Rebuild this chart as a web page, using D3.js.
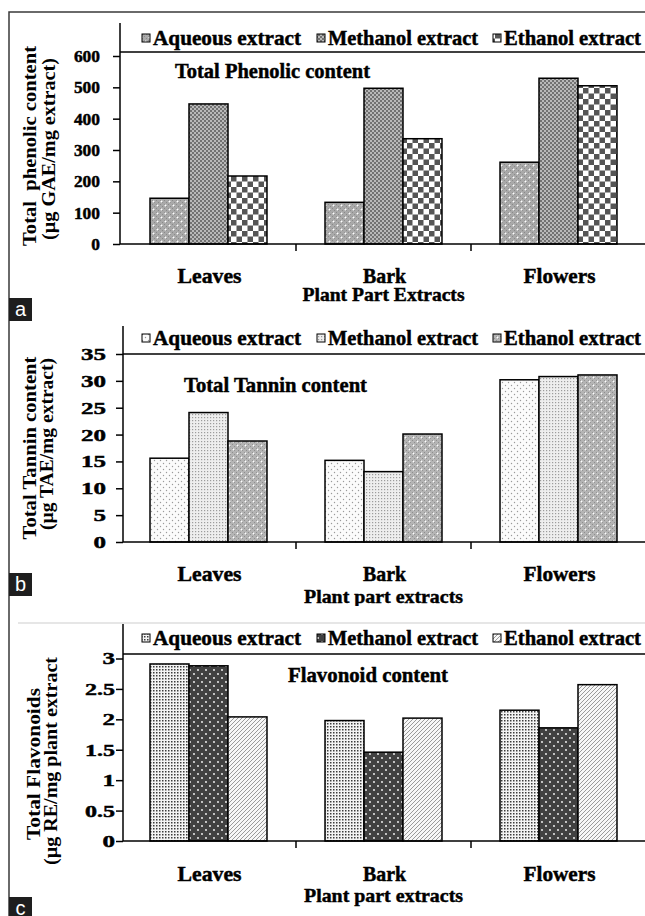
<!DOCTYPE html>
<html>
<head>
<meta charset="utf-8">
<script src="https://cdn.jsdelivr.net/npm/d3@7"></script>
<style>
  html, body { margin: 0; padding: 0; background: #fff; }
  svg { display: block; }
  text { font-family: "Liberation Serif", "Times New Roman", serif; font-weight: bold; fill: #000; }
  .heavy { stroke: #000; stroke-width: 0.45px; }
  .tag { font-family: "Liberation Sans", Arial, sans-serif; font-weight: normal; fill: #fff; }
</style>
</head>
<body>
<svg id="chart" width="645" height="916"></svg>
<script>
// ---- data ----
const categories = ["Leaves", "Bark", "Flowers"];
const seriesNames = ["Aqueous extract", "Methanol extract", "Ethanol extract"];

// Total phenolic content (µg GAE/mg extract)
const phenolicAqueous = [146, 133, 261];
const phenolicMethanol = [447, 497, 529];
const phenolicEthanol = [217, 336, 505];
const phenolicTicks = [0, 100, 200, 300, 400, 500, 600];

// Total tannin content (µg TAE/mg extract)
const tanninAqueous = [15.6, 15.2, 30.2];
const tanninMethanol = [24.1, 13.1, 30.8];
const tanninEthanol = [18.8, 20.1, 31.1];
const tanninTicks = [0, 5, 10, 15, 20, 25, 30, 35];

// Total flavonoids (µg RE/mg plant extract)
const flavonoidAqueous = [2.91, 1.98, 2.15];
const flavonoidMethanol = [2.88, 1.46, 1.86];
const flavonoidEthanol = [2.04, 2.02, 2.57];
const flavonoidTicks = [0, 0.5, 1, 1.5, 2, 2.5, 3];

// ---- layout of the three stacked panels ----
const panels = [
  {
    tag: "a", tagY: 298,
    series: [phenolicAqueous, phenolicMethanol, phenolicEthanol],
    ticks: phenolicTicks, max: 600,
    fills: ["pa0", "pa1", "pa2"],
    axisX: 120, axisTop: 23, sepY: 52, yTop: 56, yBottom: 244,
    tickRight: 100, digitW: 8.7, dotW: 4,
    legendY: 45,
    title: "Total Phenolic content", titleX: 175, titleY: 78, titleW: 195,
    catY: 283, xTitle: "Plant Part Extracts", xTitleY: 301, xTitleW: 162,
    yTitle: ["Total  phenolic content", "(µg GAE/mg extract)"],
    yTitleX: [36, 55], yTitleY: [146, 149], yTitleW: [200, 182]
  },
  {
    tag: "b", tagY: 573,
    series: [tanninAqueous, tanninMethanol, tanninEthanol],
    ticks: tanninTicks, max: 35,
    fills: ["pb0", "pb1", "pb2"],
    axisX: 123, axisTop: 326, sepY: 354, yTop: 354, yBottom: 542,
    tickRight: 106, digitW: 12.5, dotW: 5,
    legendY: 345,
    title: "Total Tannin content", titleX: 184, titleY: 392, titleW: 183,
    catY: 581, xTitle: "Plant part extracts", xTitleY: 603, xTitleW: 159, clipBottom: 606,
    yTitle: ["Total Tannin content", "(µg TAE/mg extract)"],
    yTitleX: [36, 53], yTitleY: [448, 444], yTitleW: [183, 172]
  },
  {
    tag: "c", tagY: 897,
    series: [flavonoidAqueous, flavonoidMethanol, flavonoidEthanol],
    ticks: flavonoidTicks, max: 3,
    fills: ["pc0", "pc1", "pc2"],
    axisX: 123, axisTop: 624, sepY: 654, yTop: 658.5, yBottom: 841,
    tickRight: 115, digitW: 12.5, dotW: 5,
    legendY: 645,
    title: "Flavonoid content", titleX: 288, titleY: 682, titleW: 160,
    catY: 881, xTitle: "Plant part extracts", xTitleY: 902, xTitleW: 159,
    yTitle: ["Total Flavonoids", "(µg RE/mg plant extract"],
    yTitleX: [40, 57], yTitleY: [764, 761], yTitleW: [152, 208]
  }
];

const W = 645;
const svg = d3.select("#chart");
const defs = svg.append("defs");

// ---- fill patterns ----
function pattern(id, size, build) {
  const p = defs.append("pattern").attr("id", id)
    .attr("patternUnits", "userSpaceOnUse").attr("width", size).attr("height", size);
  build(p);
  return p;
}
// panel a
pattern("pa0", 8, p => {
  p.append("rect").attr("width", 8).attr("height", 8).attr("fill", "#a9a9a9");
  [[0,0],[2,2],[4,0],[6,2],[0,4],[2,6],[4,4],[6,6]].forEach(([x,y]) =>
    p.append("rect").attr("x", x).attr("y", y).attr("width", 1).attr("height", 1).attr("fill", "#8a8a8a"));
  p.append("circle").attr("cx", 1.5).attr("cy", 1.5).attr("r", 1).attr("fill", "#fff");
  p.append("circle").attr("cx", 5.5).attr("cy", 5.5).attr("r", 1).attr("fill", "#fff");
});
pattern("pa1", 4, p => {
  p.append("rect").attr("width", 4).attr("height", 4).attr("fill", "#b9b9b9");
  p.append("rect").attr("width", 2).attr("height", 2).attr("fill", "#727272");
  p.append("rect").attr("x", 2).attr("y", 2).attr("width", 2).attr("height", 2).attr("fill", "#727272");
});
pattern("pa2", 11, p => {
  p.append("rect").attr("width", 11).attr("height", 11).attr("fill", "#fff");
  p.append("rect").attr("width", 5.5).attr("height", 5.5).attr("fill", "#555");
  p.append("rect").attr("x", 5.5).attr("y", 5.5).attr("width", 5.5).attr("height", 5.5).attr("fill", "#555");
});
// panel b
pattern("pb0", 6, p => {
  p.append("rect").attr("width", 6).attr("height", 6).attr("fill", "#fbfbfb");
  p.append("circle").attr("cx", 1.5).attr("cy", 1.5).attr("r", 0.7).attr("fill", "#9a9a9a");
  p.append("circle").attr("cx", 4.5).attr("cy", 4.5).attr("r", 0.7).attr("fill", "#9a9a9a");
});
pattern("pb1", 3, p => {
  p.append("rect").attr("width", 3).attr("height", 3).attr("fill", "#eeeeee");
  p.append("rect").attr("width", 1.2).attr("height", 1.2).attr("fill", "#9c9c9c");
});
pattern("pb2", 8, p => {
  p.append("rect").attr("width", 8).attr("height", 8).attr("fill", "#b4b4b4");
  [[0,0],[2,2],[4,0],[6,2],[0,4],[2,6],[4,4],[6,6]].forEach(([x,y]) =>
    p.append("rect").attr("x", x).attr("y", y).attr("width", 1).attr("height", 1).attr("fill", "#8e8e8e"));
  p.append("circle").attr("cx", 1.5).attr("cy", 1.5).attr("r", 0.9).attr("fill", "#fff");
  p.append("circle").attr("cx", 5.5).attr("cy", 5.5).attr("r", 0.9).attr("fill", "#fff");
});
// panel c
pattern("pc0", 3, p => {
  p.append("rect").attr("width", 3).attr("height", 3).attr("fill", "#f4f4f4");
  p.append("rect").attr("width", 1.5).attr("height", 1.5).attr("fill", "#3c3c3c");
});
pattern("pc1", 8, p => {
  p.append("rect").attr("width", 8).attr("height", 8).attr("fill", "#414141");
  p.append("circle").attr("cx", 2).attr("cy", 2).attr("r", 0.9).attr("fill", "#fff");
  p.append("circle").attr("cx", 6).attr("cy", 6).attr("r", 0.9).attr("fill", "#fff");
});
pattern("pc2", 4, p => {
  p.append("rect").attr("width", 4).attr("height", 4).attr("fill", "#f7f7f7");
  p.append("path").attr("d", "M-1,1 L1,-1 M0,4 L4,0 M3,5 L5,3")
    .attr("stroke", "#9a9a9a").attr("stroke-width", 1);
});

// ---- outer frame and panel separators ----
svg.append("path").attr("d", `M9,916 V12 H${W}`)
  .attr("fill", "none").attr("stroke", "#3a3a3a").attr("stroke-width", 1.5);
svg.append("line").attr("x1", 18).attr("x2", W).attr("y1", 623).attr("y2", 623)
  .attr("stroke", "#e6e6e6").attr("stroke-width", 2);

// shared category scale
const x0 = d3.scaleBand().domain(categories).range([121, 646]).paddingInner(0).paddingOuter(0);
const x1 = d3.scaleBand().domain(seriesNames).range([0, x0.bandwidth()])
  .paddingInner(0).paddingOuter(0.744);

const legendSwatchX = [142, 317, 493];
const legendTextW = [148, 150, 137];

panels.forEach((pn, pi) => {
  const g = svg.append("g");
  const y = d3.scaleLinear().domain([0, pn.max]).range([pn.yBottom, pn.yTop]);

  // bars
  pn.series.forEach((vals, si) => {
    g.selectAll(null).data(vals).enter().append("rect")
      .attr("x", (d, i) => x0(categories[i]) + x1(seriesNames[si]))
      .attr("width", x1.bandwidth())
      .attr("y", d => y(d))
      .attr("height", d => y(0) - y(d))
      .attr("fill", `url(#${pn.fills[si]})`)
      .attr("stroke", "#000").attr("stroke-width", 1.5);
  });

  // y axis
  const yAxis = d3.axisLeft(y).tickValues(pn.ticks).tickSize(7).tickSizeOuter(0)
    .tickFormat(d3.format("~g"));
  const ya = g.append("g").attr("transform", `translate(${pn.axisX},0)`).call(yAxis);
  ya.select(".domain").remove();
  ya.selectAll(".tick line").attr("stroke", "#000").attr("stroke-width", 1.5);
  ya.selectAll(".tick text")
    .attr("class", "heavy")
    .attr("x", pn.tickRight - pn.axisX)
    .attr("font-size", 17)
    .style("font-family", '"Liberation Serif", "Times New Roman", serif')
    .style("font-weight", "bold")
    .attr("fill", "#000")
    .each(function () {
      const s = this.textContent;
      const w = [...s].reduce((a, c) => a + (c === "." ? pn.dotW : pn.digitW), 0);
      d3.select(this).attr("textLength", w).attr("lengthAdjust", "spacingAndGlyphs");
    });
  g.append("line").attr("x1", pn.axisX).attr("x2", pn.axisX)
    .attr("y1", pn.axisTop).attr("y2", pn.yBottom)
    .attr("stroke", "#000").attr("stroke-width", 1.5);

  // x axis with ticks between categories
  g.append("line").attr("x1", pn.axisX).attr("x2", W)
    .attr("y1", pn.yBottom).attr("y2", pn.yBottom)
    .attr("stroke", "#000").attr("stroke-width", 1.5);
  g.selectAll(null).data(categories.slice(1)).enter().append("line")
    .attr("x1", d => x0(d)).attr("x2", d => x0(d))
    .attr("y1", pn.yBottom).attr("y2", pn.yBottom + 7)
    .attr("stroke", "#000").attr("stroke-width", 1.5);

  // legend strip separator
  g.append("line").attr("x1", pn.axisX).attr("x2", W)
    .attr("y1", pn.sepY).attr("y2", pn.sepY)
    .attr("stroke", "#000").attr("stroke-width", 1.5);

  // legend
  seriesNames.forEach((name, si) => {
    g.append("rect").attr("x", legendSwatchX[si]).attr("y", pn.legendY - 11)
      .attr("width", 8).attr("height", 8)
      .attr("fill", `url(#${pn.fills[si]})`).attr("stroke", "#000").attr("stroke-width", 1);
    g.append("text").attr("class", "heavy").attr("x", legendSwatchX[si] + 11).attr("y", pn.legendY)
      .attr("font-size", 20).attr("textLength", legendTextW[si])
      .attr("lengthAdjust", "spacingAndGlyphs").text(name);
  });

  // inner chart title
  g.append("text").attr("class", "heavy").attr("x", pn.titleX).attr("y", pn.titleY)
    .attr("font-size", 20).attr("textLength", pn.titleW)
    .attr("lengthAdjust", "spacingAndGlyphs").text(pn.title);

  // category labels
  const catW = { Leaves: 64, Bark: 43, Flowers: 72 };
  g.selectAll(null).data(categories).enter().append("text")
    .attr("class", "heavy")
    .attr("x", d => x0(d) + x0.bandwidth() / 2 + 1 - catW[d] / 2)
    .attr("y", pn.catY)
    .attr("font-size", 20)
    .attr("textLength", d => catW[d]).attr("lengthAdjust", "spacingAndGlyphs")
    .text(d => d);

  // x axis title
  let xt = g;
  if (pn.clipBottom) {
    defs.append("clipPath").attr("id", "clip" + pi)
      .append("rect").attr("x", 0).attr("y", pn.yBottom).attr("width", W)
      .attr("height", pn.clipBottom - pn.yBottom);
    xt = g.append("g").attr("clip-path", `url(#clip${pi})`);
  }
  const xMid = x0("Bark") + x0.bandwidth() / 2;
  xt.append("text").attr("class", "heavy").attr("x", xMid - pn.xTitleW / 2).attr("y", pn.xTitleY)
    .attr("font-size", 19).attr("textLength", pn.xTitleW)
    .attr("lengthAdjust", "spacingAndGlyphs").text(pn.xTitle);

  // rotated y axis title (two lines)
  pn.yTitle.forEach((line, li) => {
    g.append("text")
      .attr("transform", `translate(${pn.yTitleX[li]},${pn.yTitleY[li] + pn.yTitleW[li] / 2}) rotate(-90)`)
      .attr("font-size", 18)
      .attr("textLength", pn.yTitleW[li]).attr("lengthAdjust", "spacingAndGlyphs")
      .style("white-space", "pre")
      .text(line);
  });

  // panel letter tag
  svg.append("rect").attr("x", 9).attr("y", pn.tagY).attr("width", 23).attr("height", 23).attr("fill", "#1e1e1e");
  svg.append("text").attr("class", "tag").attr("x", 20.5).attr("y", pn.tagY + 18)
    .attr("text-anchor", "middle").attr("font-size", 20).text(pn.tag);
});
</script>
</body>
</html>
